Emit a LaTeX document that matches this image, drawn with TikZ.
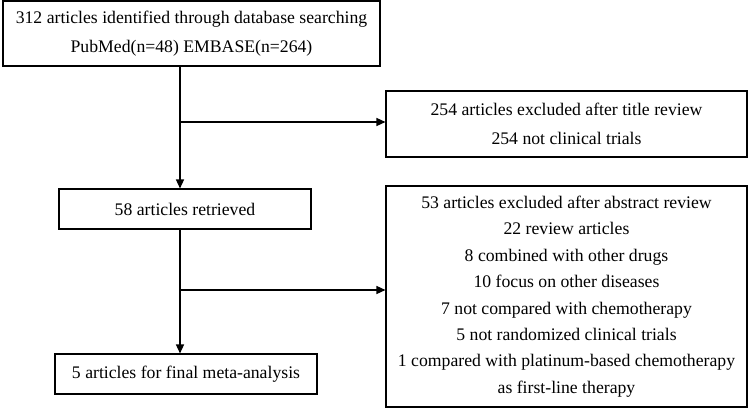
\documentclass[tikz,border=0pt]{standalone}
\usepackage{fontspec}
\setmainfont{Liberation Serif}
\usetikzlibrary{arrows.meta}
\begin{document}
\begin{tikzpicture}[x=1pt,y=-1pt,
  box/.style={draw, line width=1.1pt, inner sep=0pt, align=center},
  wide/.style={font=\fontsize{17.7}{29.5}\selectfont},
  tight/.style={font=\fontsize{17.7}{26.4}\selectfont},
  conn/.style={line width=1.4pt, -{Triangle[length=9pt,width=8pt]}}]
\useasboundingbox (0,0) rectangle (749,410);
\node[box, wide, minimum width=377pt, minimum height=65pt] (top) at (191.5,33.5)
  {312 articles identified through database searching\\PubMed(n=48) EMBASE(n=264)};
\node[box, wide, minimum width=361pt, minimum height=66pt] (r1) at (566.5,124)
  {254 articles excluded after title review\\254 not clinical trials};
\node[box, tight, minimum width=252pt, minimum height=40pt] (n58) at (185,209)
  {58 articles retrieved};
\node[box, tight, minimum width=361pt, minimum height=221pt] (r2) at (566.5,296.5)
  {53 articles excluded after abstract review\\22 review articles\\8 combined with other drugs\\10 focus on other diseases\\7 not compared with chemotherapy\\5 not randomized clinical trials\\1 compared with platinum-based chemotherapy\\as first-line therapy};
\node[box, tight, minimum width=262pt, minimum height=40pt] (n5) at (186,374)
  {5 articles for final meta-analysis};
\coordinate (b1) at (180,122);
\coordinate (b2) at (180,290);
\draw[conn] (top.south -| b1) -- (n58.north -| b1);
\draw[conn] (b1) -- (r1.west |- b1);
\draw[conn] (n58.south -| b2) -- (n5.north -| b2);
\draw[conn] (b2) -- (r2.west |- b2);
\end{tikzpicture}
\end{document}
